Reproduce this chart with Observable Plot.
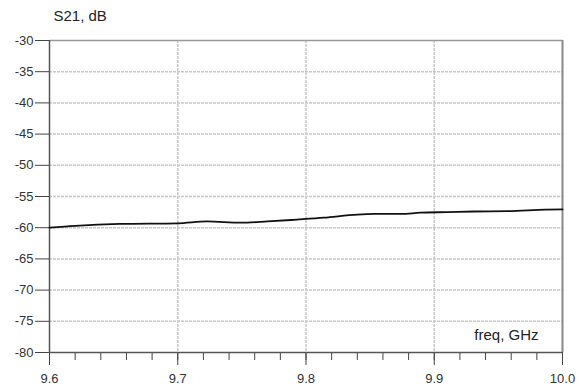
<!DOCTYPE html>
<html>
<head>
<meta charset="utf-8">
<script src="https://cdn.jsdelivr.net/npm/d3@7"></script>
<script src="https://cdn.jsdelivr.net/npm/@observablehq/plot@0.6"></script>
<style>
  html, body { margin: 0; padding: 0; background: #fff; }
  #chart svg { display: block; }
</style>
</head>
<body>
<div id="chart"></div>
<script>
// Transmission coefficient S21 across the X-band sweep
const freq = [9.6, 9.62, 9.655, 9.7, 9.723, 9.749, 9.77, 9.793, 9.814, 9.84, 9.853, 9.874, 9.889, 9.91, 9.931, 9.957, 9.987, 10.0];
const s21  = [-60.0, -59.7, -59.4, -59.3, -59.0, -59.2, -59.0, -58.7, -58.4, -57.9, -57.8, -57.8, -57.6, -57.5, -57.4, -57.35, -57.1, -57.05];

const xTicks = [9.6, 9.7, 9.8, 9.9, 10.0];
const yTicks = [-30, -35, -40, -45, -50, -55, -60, -65, -70, -75, -80];
const xMinorTicks = d3.range(0, 21).map(i => 9.6 + i * 0.02);

const data = freq.map((f, i) => ({f, v: s21[i]}));

const chart = Plot.plot({
  width: 580,
  height: 387,
  marginLeft: 49,
  marginRight: 18,
  marginTop: 40,
  marginBottom: 35,
  style: {fontFamily: "'Liberation Sans', Arial, sans-serif", fontSize: "13px", color: "#333", background: "#fff"},
  x: {domain: [9.6, 10.0]},
  y: {domain: [-80, -30]},
  marks: [
    Plot.gridX(xTicks.slice(1, -1), {stroke: "#c8c8c8", strokeOpacity: 1, strokeWidth: 1.5, strokeDasharray: "3,1"}),
    Plot.gridY(yTicks.slice(1, -1), {stroke: "#c8c8c8", strokeOpacity: 1, strokeWidth: 1.5, strokeDasharray: "3,1"}),
    Plot.axisY(yTicks, {tickSize: 14, tickPadding: 2, label: null, stroke: "#444", fill: "#333", tickFormat: d => String(d)}),
    Plot.axisX(xTicks, {tickSize: 13, tickPadding: 8, label: null, stroke: "#444", fill: "#333", tickFormat: d3.format(".1f")}),
    Plot.axisX(xMinorTicks, {tickSize: 8, label: null, text: null, stroke: "#444"}),
    Plot.ruleY([-30], {stroke: "#999", strokeWidth: 1.5}),
    Plot.ruleX([10.0], {stroke: "#888", strokeWidth: 2}),
    Plot.ruleX([9.6], {stroke: "#555", strokeWidth: 1.5}),
    Plot.ruleY([-80], {stroke: "#555", strokeWidth: 1.5}),
    Plot.line(data, {x: "f", y: "v", stroke: "#111", strokeWidth: 1.8, curve: "monotone-x"}),
    Plot.text(["S21, dB"], {frameAnchor: "top-left", dx: 4, dy: -30, textAnchor: "start", fontSize: 15, fill: "#222"}),
    Plot.text(["freq, GHz"], {frameAnchor: "bottom-right", dx: -24, dy: -13, textAnchor: "end", fontSize: 15, fill: "#222"})
  ]
});

document.getElementById("chart").appendChild(chart);
</script>
</body>
</html>
